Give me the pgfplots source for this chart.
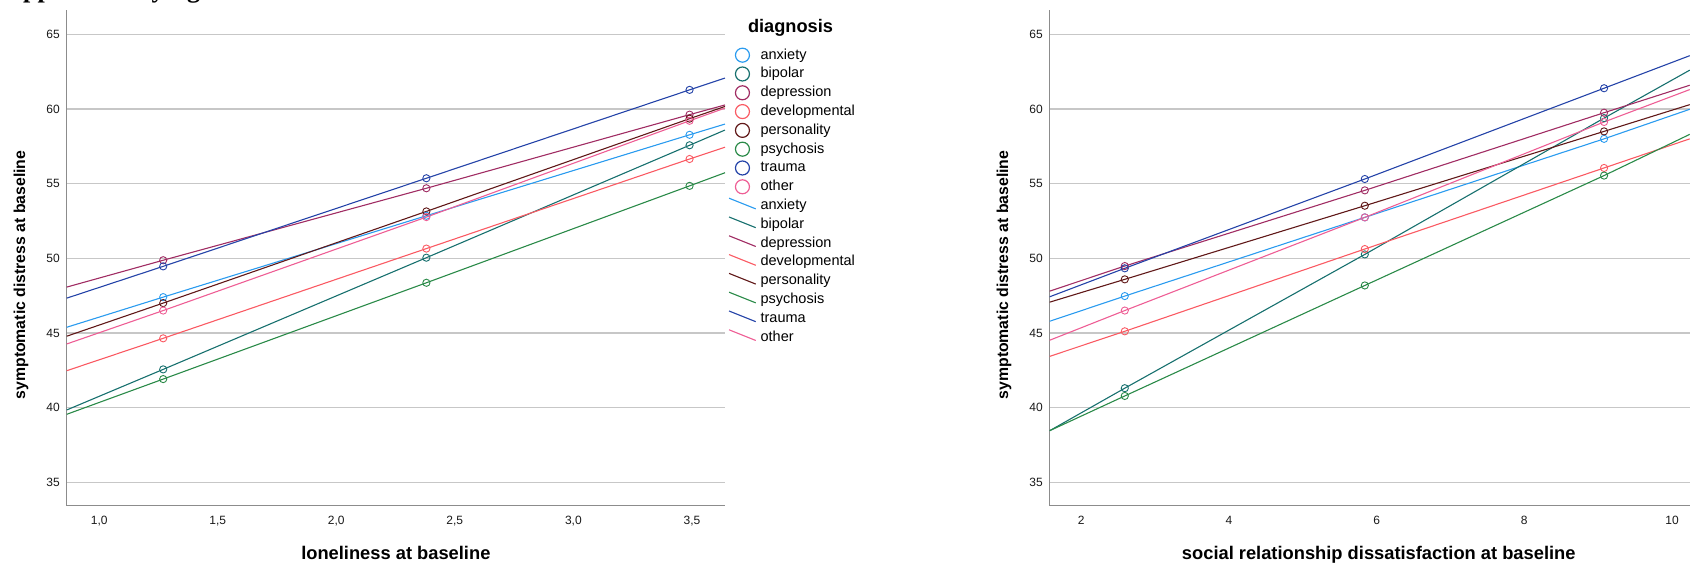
\documentclass[border=0pt]{standalone}
\usepackage{pgfplots}
\pgfplotsset{compat=1.18}
\usepackage{fontspec}
\setmainfont{Liberation Sans}
\newfontfamily\serifb{Liberation Serif}

\definecolor{cAnx}{HTML}{2A9BEF}
\definecolor{cBip}{HTML}{17706E}
\definecolor{cDep}{HTML}{A02C63}
\definecolor{cDev}{HTML}{FA5A63}
\definecolor{cPer}{HTML}{601818}
\definecolor{cPsy}{HTML}{2A8A48}
\definecolor{cTra}{HTML}{2443A8}
\definecolor{cOth}{HTML}{EE5E95}

\pgfplotsset{
  sp/.style={
    scale only axis, width=658.3pt, height=495.7pt,
    ymin=33.43, ymax=66.63,
    axis x line*=bottom, axis y line*=left,
    axis line style={-, draw=black!45, line width=1.3pt},
    ymajorgrids, grid style={draw=black!22, line width=1.4pt},
    major tick length=0pt,
    ytick={35,40,45,50,55,60,65},
    yticklabels={35,40,45,50,55,60,65},
    tick label style={font=\fontsize{12}{14}\selectfont, text=black!90},
    yticklabel style={inner sep=0pt, xshift=-6.7pt, anchor=east},
    xticklabel style={inner sep=0pt, yshift=-10.5pt, anchor=north},
    xlabel style={font=\bfseries\fontsize{18.3}{20}\selectfont, at={(axis description cs:0.5,-0.1095)}, anchor=base},
    ylabel style={font=\bfseries\fontsize{15.8}{18}\selectfont, at={(axis description cs:-0.0694,0.4654)}, anchor=center},
  },
  ln/.style={forget plot, line width=1.1pt, #1},
  mk/.style={forget plot, only marks, mark=o, mark size=3.6pt, mark options={draw=#1, line width=0.9pt}},
  lgc/.style={legend image code/.code={\path[draw=none,fill=none] (0pt,-7.5pt) rectangle (26.7pt,7.5pt); \draw[#1, fill=none, line width=1.2pt] (13.4pt,0pt) circle[radius=7pt];}},
  lgl/.style={legend image code/.code={\path[draw=none,fill=none] (0pt,-7.5pt) rectangle (26.7pt,7.5pt); \draw[#1, line width=1.1pt] (0pt,7.4pt) -- (26.7pt,-3.3pt);}},
}

\begin{document}
\begin{tikzpicture}
% ---------------- left panel ----------------
\begin{axis}[sp, at={(66.7pt,58.3pt)}, anchor=south west,
  xmin=0.863, xmax=3.6395,
  xtick={1,1.5,2,2.5,3,3.5},
  xticklabels={{1,0},{1,5},{2,0},{2,5},{3,0},{3,5}},
  xlabel={loneliness at baseline},
  ylabel={symptomatic distress at baseline},
  legend style={at={(axis description cs:1.00502,0.9282)}, anchor=north west,
    draw=none, fill=none, inner sep=0pt, row sep=0pt, column sep=4.3pt,
    font=\fontsize{14.5}{17}\selectfont,
    nodes={inner sep=0pt, text height=13.3pt, text depth=5.5pt}},
  legend cell align=left]
\addplot[ln=cAnx] coordinates {(0.863,45.38) (1.27,47.40) (2.38,52.85) (3.49,58.27) (3.6395,58.99)};
\addplot[ln=cBip] coordinates {(0.863,39.84) (1.27,42.56) (2.38,50.04) (3.49,57.57) (3.6395,58.59)};
\addplot[ln=cDep] coordinates {(0.863,48.07) (1.27,49.87) (2.38,54.69) (3.49,59.62) (3.6395,60.27)};
\addplot[ln=cDev] coordinates {(0.863,42.47) (1.27,44.64) (2.38,50.65) (3.49,56.65) (3.6395,57.44)};
\addplot[ln=cPer] coordinates {(0.863,44.78) (1.27,47.00) (2.38,53.14) (3.49,59.35) (3.6395,60.17)};
\addplot[ln=cPsy] coordinates {(0.863,39.55) (1.27,41.91) (2.38,48.36) (3.49,54.85) (3.6395,55.73)};
\addplot[ln=cTra] coordinates {(0.863,47.33) (1.27,49.46) (2.38,55.36) (3.49,61.28) (3.6395,62.07)};
\addplot[ln=cOth] coordinates {(0.863,44.26) (1.27,46.50) (2.38,52.76) (3.49,59.21) (3.6395,60.06)};
\addplot[mk=cAnx] coordinates {(1.27,47.40) (2.38,52.85) (3.49,58.27)};
\addplot[mk=cBip] coordinates {(1.27,42.56) (2.38,50.04) (3.49,57.57)};
\addplot[mk=cDep] coordinates {(1.27,49.87) (2.38,54.69) (3.49,59.62)};
\addplot[mk=cDev] coordinates {(1.27,44.64) (2.38,50.65) (3.49,56.65)};
\addplot[mk=cPer] coordinates {(1.27,47.00) (2.38,53.14) (3.49,59.35)};
\addplot[mk=cPsy] coordinates {(1.27,41.91) (2.38,48.36) (3.49,54.85)};
\addplot[mk=cTra] coordinates {(1.27,49.46) (2.38,55.36) (3.49,61.28)};
\addplot[mk=cOth] coordinates {(1.27,46.50) (2.38,52.76) (3.49,59.21)};
\addlegendimage{lgc=cAnx}\addlegendentry{anxiety}
\addlegendimage{lgc=cBip}\addlegendentry{bipolar}
\addlegendimage{lgc=cDep}\addlegendentry{depression}
\addlegendimage{lgc=cDev}\addlegendentry{developmental}
\addlegendimage{lgc=cPer}\addlegendentry{personality}
\addlegendimage{lgc=cPsy}\addlegendentry{psychosis}
\addlegendimage{lgc=cTra}\addlegendentry{trauma}
\addlegendimage{lgc=cOth}\addlegendentry{other}
\addlegendimage{lgl=cAnx}\addlegendentry{anxiety}
\addlegendimage{lgl=cBip}\addlegendentry{bipolar}
\addlegendimage{lgl=cDep}\addlegendentry{depression}
\addlegendimage{lgl=cDev}\addlegendentry{developmental}
\addlegendimage{lgl=cPer}\addlegendentry{personality}
\addlegendimage{lgl=cPsy}\addlegendentry{psychosis}
\addlegendimage{lgl=cTra}\addlegendentry{trauma}
\addlegendimage{lgl=cOth}\addlegendentry{other}
\end{axis}
\node[font=\bfseries\fontsize{18.2}{20}\selectfont, anchor=center, inner sep=0pt] at (790.5pt,536pt) {diagnosis};
% ---------------- right panel ----------------
\begin{axis}[sp, at={(1049.6pt,58.3pt)}, anchor=south west,
  xmin=1.572, xmax=10.486,
  xtick={2,4,6,8,10},
  xticklabels={2,4,6,8,10},
  xlabel={social relationship dissatisfaction at baseline},
  ylabel={symptomatic distress at baseline}]
\addplot[ln=cAnx] coordinates {(1.572,45.78) (2.59,47.47) (5.84,52.74) (9.08,58.00) (10.24,59.98)};
\addplot[ln=cBip] coordinates {(1.572,38.45) (2.59,41.30) (5.84,50.26) (9.08,59.39) (10.24,62.60)};
\addplot[ln=cDep] coordinates {(1.572,47.80) (2.59,49.48) (5.84,54.55) (9.08,59.75) (10.24,61.59)};
\addplot[ln=cDev] coordinates {(1.572,43.43) (2.59,45.11) (5.84,50.62) (9.08,56.05) (10.24,58.00)};
\addplot[ln=cPer] coordinates {(1.572,47.06) (2.59,48.59) (5.84,53.52) (9.08,58.50) (10.24,60.29)};
\addplot[ln=cPsy] coordinates {(1.572,38.45) (2.59,40.78) (5.84,48.18) (9.08,55.54) (10.24,58.30)};
\addplot[ln=cTra] coordinates {(1.572,47.42) (2.59,49.33) (5.84,55.31) (9.08,61.39) (10.24,63.57)};
\addplot[ln=cOth] coordinates {(1.572,44.51) (2.59,46.50) (5.84,52.74) (9.08,59.13) (10.24,61.30)};
\addplot[mk=cAnx] coordinates {(2.59,47.47) (5.84,52.74) (9.08,58.00)};
\addplot[mk=cBip] coordinates {(2.59,41.30) (5.84,50.26) (9.08,59.39)};
\addplot[mk=cDep] coordinates {(2.59,49.48) (5.84,54.55) (9.08,59.75)};
\addplot[mk=cDev] coordinates {(2.59,45.11) (5.84,50.62) (9.08,56.05)};
\addplot[mk=cPer] coordinates {(2.59,48.59) (5.84,53.52) (9.08,58.50)};
\addplot[mk=cPsy] coordinates {(2.59,40.78) (5.84,48.18) (9.08,55.54)};
\addplot[mk=cTra] coordinates {(2.59,49.33) (5.84,55.31) (9.08,61.39)};
\addplot[mk=cOth] coordinates {(2.59,46.50) (5.84,52.74) (9.08,59.13)};
\end{axis}
% cut-off caption line above the picture
\node[font=\serifb\bfseries\fontsize{26}{30}\selectfont, anchor=base west, inner sep=0pt] at (-6pt,566pt) {Supplementary figure};
\pgfresetboundingbox
\path[use as bounding box] (0pt,0pt) rectangle (1690pt,564pt);
\end{tikzpicture}
\end{document}
